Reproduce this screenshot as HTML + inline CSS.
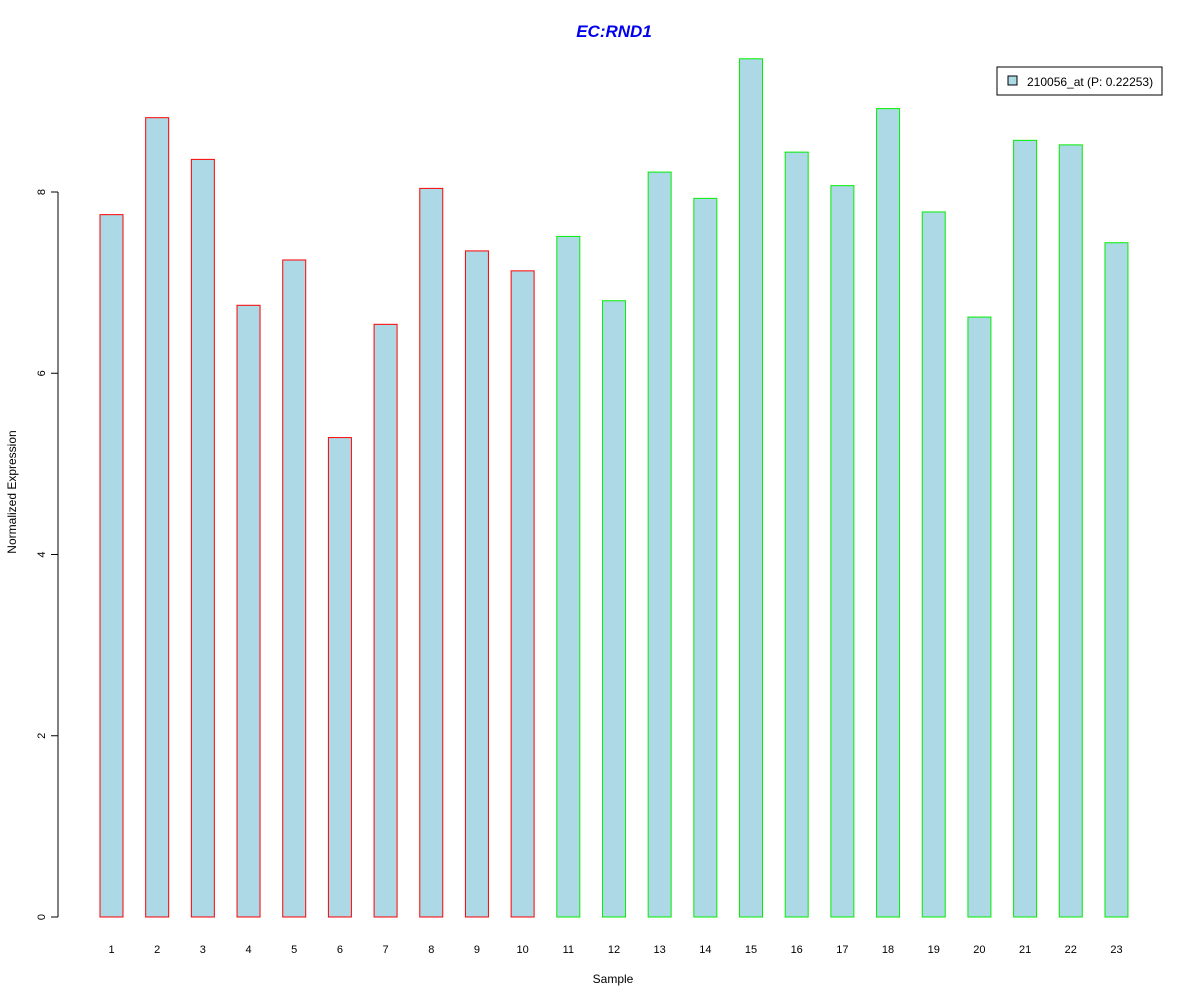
<!DOCTYPE html>
<html><head><meta charset="utf-8"><style>
body{margin:0;background:#fff;}
svg text{font-family:"Liberation Sans",Arial,sans-serif;}
</style></head><body>
<svg id="chart" width="1200" height="1000" xmlns="http://www.w3.org/2000/svg">
<rect width="1200" height="1000" fill="#fff"/>
<text x="614" y="37" text-anchor="middle" font-size="17" font-weight="bold" font-style="italic" fill="#0000ee">EC:RND1</text>
<text x="613" y="983" text-anchor="middle" font-size="12">Sample</text>
<text transform="translate(16,492) rotate(-90)" text-anchor="middle" font-size="12">Normalized Expression</text>
<g id="bars"></g><g id="yaxis"></g><g id="xlabels"></g>
<g>
<rect x="997" y="67" width="165" height="28" fill="#fff" stroke="#000"/>
<rect x="1008" y="76" width="9" height="9" fill="#add8e6" stroke="#000"/>
<text x="1027" y="86" font-size="12">210056_at (P: 0.22253)</text>
</g>
</svg>
<script>
const categories=["1","2","3","4","5","6","7","8","9","10","11","12","13","14","15","16","17","18","19","20","21","22","23"];
const values=[7.75,8.82,8.36,6.75,7.25,5.29,6.54,8.04,7.35,7.13,7.51,6.80,8.22,7.93,9.47,8.44,8.07,8.92,7.78,6.62,8.57,8.52,7.44];
const groups=["a","a","a","a","a","a","a","a","a","a","b","b","b","b","b","b","b","b","b","b","b","b","b"];
const yTicks=[0,2,4,6,8];
const ns="http://www.w3.org/2000/svg";
const y=v=>917-v*90.625;
const xc=i=>111.5+i*45.68;
const bw=23;
const bars=document.getElementById('bars');
values.forEach((v,i)=>{
 const r=document.createElementNS(ns,'rect');
 
 
 r.setAttribute('x',xc(i)-bw/2);r.setAttribute('y',y(v));
 r.setAttribute('width',bw);r.setAttribute('height',y(0)-y(v));
 r.setAttribute('fill','#add8e6');
 r.setAttribute('stroke',groups[i]==="a"?'#ff0000':'#00ee00');
 bars.appendChild(r);
 const t=document.createElementNS(ns,'text');
 
 
 t.setAttribute('x',xc(i));t.setAttribute('y',953);
 t.setAttribute('text-anchor','middle');t.setAttribute('font-size','11');
 t.textContent=categories[i];
 document.getElementById('xlabels').appendChild(t);
});
const ya=document.getElementById('yaxis');
const ax=document.createElementNS(ns,'line');


ax.setAttribute('x1',58);ax.setAttribute('x2',58);
ax.setAttribute('y1',y(yTicks[0]));ax.setAttribute('y2',y(yTicks[yTicks.length-1]));
ax.setAttribute('stroke','#000');ya.appendChild(ax);
yTicks.forEach(v=>{
 const l=document.createElementNS(ns,'line');
 
 
 l.setAttribute('x1',51);l.setAttribute('x2',58);l.setAttribute('y1',y(v));l.setAttribute('y2',y(v));
 l.setAttribute('stroke','#000');ya.appendChild(l);
 const t=document.createElementNS(ns,'text');
 
 
 t.setAttribute('transform','translate(45,'+y(v)+') rotate(-90)');
 t.setAttribute('text-anchor','middle');t.setAttribute('font-size','11');
 t.textContent=v;ya.appendChild(t);
});
</script>
</body></html>
